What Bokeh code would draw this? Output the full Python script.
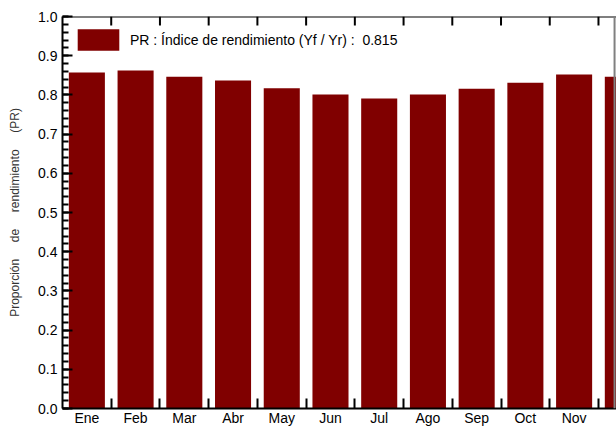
from bokeh.plotting import figure
from bokeh.models import (ColumnDataSource, FixedTicker, Range1d,
                          SingleIntervalTicker, Legend, LegendItem, Span)
from bokeh.embed import file_html
from bokeh.resources import INLINE

# ---- data ----
months = ["Ene", "Feb", "Mar", "Abr", "May", "Jun", "Jul", "Ago", "Sep", "Oct", "Nov", "Dic"]
pr_values = [0.857, 0.862, 0.846, 0.837, 0.817, 0.801, 0.791, 0.801, 0.816, 0.831, 0.852, 0.846]
pr_annual = 0.815
legend_text = "PR : Índice de rendimiento (Yf / Yr) :  " + f"{pr_annual:.3f}"
NB = "\u00a0" * 5
y_label = NB.join(["Proporción", "de", "rendimiento", "(PR)"])
y_label_overrides = {0.0: "0.0", 1.0: "1.0"}

BAR = "#800000"
FONT = "Liberation Sans"
X_END = 11.37
Y_MAX = 1.0
TOP_TICK = 0.023  # length of top tick marks (fraction of y range)

centers = [i + 0.5 for i in range(len(months))]
bounds = [float(i) for i in range(1, len(months))]
src = ColumnDataSource(dict(x=centers, top=pr_values))
tsrc = ColumnDataSource(dict(x=bounds, y0=[Y_MAX] * len(bounds),
                             y1=[Y_MAX - TOP_TICK] * len(bounds)))

p = figure(width=616, height=428, output_backend="svg", toolbar_location=None,
           x_range=Range1d(0, X_END), y_range=Range1d(0, Y_MAX),
           min_border_left=62, min_border_right=0, min_border_top=16,
           min_border_bottom=16)
p.xgrid.visible = False
p.ygrid.visible = False
p.outline_line_color = None

r = p.vbar(x="x", top="top", width=0.74, source=src, fill_color=BAR,
           line_color=None)

# top frame line and its ticks
p.add_layout(Span(location=Y_MAX, dimension="width", line_color="black",
                  line_width=2))
p.segment(x0="x", x1="x", y0="y0", y1="y1", source=tsrc, line_color="black",
          line_width=2)

# bottom axis: labels at centers, ticks at boundaries
xa = p.xaxis[0]
xa.ticker = FixedTicker(ticks=centers, minor_ticks=bounds)
xa.major_label_overrides = {c: m for c, m in zip(centers, months)}
xa.major_tick_in = 0
xa.major_tick_out = 0
xa.minor_tick_in = 10
xa.minor_tick_out = 0
xa.minor_tick_line_width = 2
xa.axis_line_width = 2
xa.major_label_standoff = 1
xa.major_label_text_font = FONT
xa.major_label_text_font_size = "14px"
xa.major_label_text_color = "#000000"

# left axis
ya = p.yaxis[0]
ya.ticker = SingleIntervalTicker(interval=0.1, num_minor_ticks=5)
ya.major_label_overrides = y_label_overrides
ya.major_tick_in = 10
ya.major_tick_out = 0
ya.minor_tick_in = 6
ya.minor_tick_out = 0
ya.major_tick_line_width = 2
ya.minor_tick_line_width = 2
ya.axis_line_width = 2
ya.major_label_standoff = 5
ya.major_label_text_font = FONT
ya.major_label_text_font_size = "14px"
ya.major_label_text_color = "#000000"
ya.axis_label = y_label
ya.axis_label_text_font = FONT
ya.axis_label_text_font_size = "12px"
ya.axis_label_text_font_style = "normal"
ya.axis_label_text_color = "#333333"
ya.axis_label_standoff = 13

# right-edge grey line
p.add_layout(Span(location=11.33, dimension="height", line_color="#808080",
                  line_width=2))

legend = Legend(items=[LegendItem(label=legend_text, renderers=[r])],
                location="top_left",
                glyph_width=52, glyph_height=27, label_height=27,
                label_standoff=6, padding=0, margin=10, spacing=0,
                background_fill_alpha=0, border_line_color=None,
                label_text_font=FONT, label_text_font_size="14px",
                label_text_color="#000000")
p.add_layout(legend, "center")

open("out.html", "w").write(file_html(p, INLINE))
